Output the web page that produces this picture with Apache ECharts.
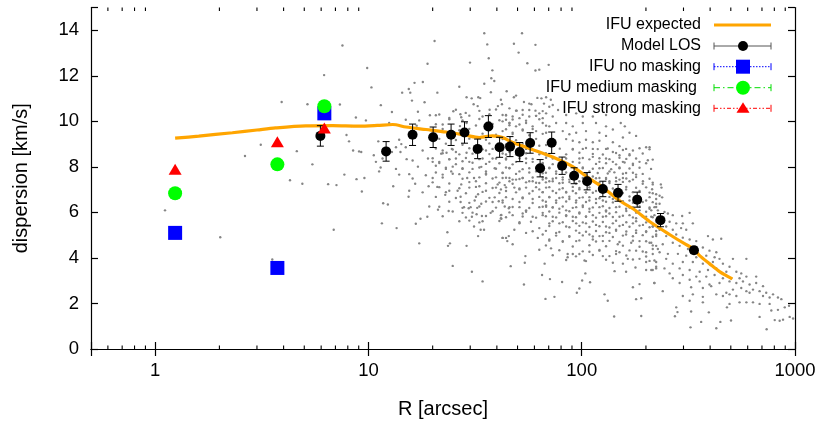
<!DOCTYPE html>
<html>
<head>
<meta charset="utf-8">
<script src="https://cdn.jsdelivr.net/npm/echarts@6/dist/echarts.min.js"></script>
<style>html,body{margin:0;padding:0;background:#fff;}#c{width:831px;height:424px;}</style>
</head>
<body>
<div id="c"></div>
<script>
// ---------------- DATA ----------------
const xTickLabels = [1, 10, 100, 1000];
const minorTickValues = [0.6,0.7,0.8,0.9,2,3,4,5,6,7,8,9,20,30,40,50,60,70,80,90,200,300,400,500,600,700,800,900];

// IFU expected curve: [R arcsec, dispersion km/s]
const ifuExpected = [[1.24,9.26],[1.6,9.35],[2.3,9.5],[3.0,9.62],[3.67,9.71],[5.08,9.8],[6.8,9.81],[9.0,9.79],[11,9.82],[13,9.86],[15,9.75],[18.6,9.64],[23.1,9.53],[28.6,9.39],[33.1,9.29],[38.2,9.36],[42.6,9.29],[47.5,9.07],[54.8,8.86],[63.3,8.65],[73.1,8.43],[90.7,8.01],[105,7.58],[126,7.09],[150,6.52],[174,6.16],[208,5.6],[258,5.03],[309,4.58],[336,4.39],[357,4.1],[397,3.75],[443,3.4],[508,3.08]];

// Model LOS binned: R, dispersion, error
const modelR   = [5.95,12.1,16.1,20.1,24.4,28.2,32.5,36.5,41.2,46.1,51.2,57.3,63.8,72.3,80.9,92.1,106,125.6,148,182,234,336];
const modelSig = [9.36,8.68,9.41,9.30,9.41,9.51,8.79,9.77,8.86,8.89,8.65,9.05,7.94,9.06,8.05,7.61,7.37,7.03,6.86,6.56,5.66,4.34];
const modelErr = [0.45,0.43,0.47,0.45,0.47,0.47,0.43,0.48,0.44,0.44,0.42,0.45,0.38,0.47,0.38,0.35,0.38,0.34,0.37,0.33,0.29,0.15];

// IFU points
const ifuR = [1.24, 3.74, 6.21];
const ifuNoMask = [5.1, 3.56, 10.35];
const ifuMedium = [6.84, 8.11, 10.66];
const ifuStrong = [7.9, 9.1, 9.71];

// Individual stars: [log10(R arcsec), dispersion km/s]
const starsLogR_Sigma = [
[1.543,13.87],[0.878,13.33],[1.310,13.53],[1.557,13.38],[1.564,12.77],[1.476,12.58],[1.277,12.53],[0.994,12.34],[1.581,12.24],[1.576,11.89],[1.590,11.77],[1.543,11.65],[1.255,11.73],[1.216,11.69],[1.014,11.49],[1.426,11.52],[1.189,11.42],[1.158,11.26],[1.196,11.26],[1.574,11.28],[1.323,11.26],[1.460,11.06],[1.484,11.01],[1.515,11.06],[1.524,11.02],[1.621,10.95],[1.204,10.91],[1.263,10.84],[1.493,10.75],[0.866,10.74],[1.058,10.71],[1.607,10.67],[1.512,10.67],[1.568,10.51],[1.398,10.44],[1.110,10.41],[1.232,10.42],[1.288,10.27],[1.316,10.27],[1.431,10.31],[1.456,10.37],[1.379,10.15],[1.435,10.18],[1.535,10.21],[1.629,10.28],[1.645,10.07],[0.941,10.17],[0.988,10.04],[1.175,10.07],[1.238,10.04],[1.567,9.96],[1.661,9.93],[0.919,9.79],[1.097,9.93],[1.226,9.81],[1.348,9.86],[1.429,9.79],[1.460,9.93],[0.897,9.40],[0.909,9.12],[1.046,9.12],[1.144,9.19],[1.154,9.00],[1.129,8.86],[1.175,8.86],[0.928,8.72],[0.956,8.68],[0.966,8.65],[1.025,8.51],[1.110,8.65],[1.150,8.65],[1.254,8.72],[1.348,8.72],[1.341,8.58],[1.366,8.62],[1.391,8.79],[1.410,8.65],[1.460,8.62],[1.488,8.58],[1.551,8.72],[1.582,8.79],[1.629,8.72],[1.645,8.54],[1.035,8.22],[1.066,8.37],[1.179,8.34],[1.207,8.28],[1.279,8.37],[1.301,8.22],[1.332,8.22],[1.379,8.34],[1.410,8.37],[1.441,8.25],[1.473,8.22],[1.535,8.37],[1.567,8.22],[1.598,8.37],[1.057,7.97],[1.129,7.91],[1.232,8.01],[1.316,8.05],[1.363,7.91],[1.395,8.01],[1.441,7.94],[1.488,7.91],[1.529,8.00],[1.551,7.80],[1.592,7.94],[1.645,7.97],[0.887,7.66],[0.944,7.46],[0.981,7.51],[1.050,7.80],[1.144,7.66],[1.191,7.68],[1.207,7.49],[1.269,7.63],[1.301,7.51],[1.348,7.66],[1.388,7.80],[1.426,7.68],[1.463,7.51],[1.495,7.51],[1.504,7.37],[1.551,7.66],[1.598,7.54],[1.629,7.73],[1.661,7.51],[0.850,7.20],[0.969,6.92],[1.116,7.15],[1.219,7.26],[1.282,7.15],[1.323,7.12],[1.379,6.95],[1.435,7.23],[1.473,7.09],[1.520,7.15],[1.598,7.09],[1.639,7.20],[1.191,6.95],[1.254,6.88],[1.418,6.95],[1.551,6.95],[1.606,7.23],
[1.360,6.77],[1.432,6.69],[1.514,6.80],[1.592,6.66],[1.611,6.49],[1.582,6.46],[1.639,6.26],[1.658,6.18],[1.498,6.52],[1.529,6.38],[1.432,6.46],[1.448,6.23],[1.470,6.18],[1.479,6.23],[1.510,6.20],[1.069,6.40],[1.091,6.35],[1.188,6.69],[1.285,6.26],[1.326,6.12],[1.376,6.06],[1.441,5.98],[1.485,5.81],[1.473,5.64],[1.507,5.92],[1.532,5.84],[1.535,5.61],[1.573,5.98],[1.623,5.89],[1.623,5.72],[0.837,5.24],[1.063,5.52],[1.132,5.31],[1.222,5.50],[1.244,5.72],[1.276,5.81],[1.370,5.13],[1.495,5.38],[1.514,4.96],[1.526,5.24],[1.542,5.24],[1.629,4.88],[1.651,4.74],[1.658,4.96],[1.238,4.64],[1.373,4.53],[1.382,4.64],[1.460,4.53],[1.395,3.65],[1.485,3.39],[1.535,2.97],
[1.720,13.87],[1.682,13.41],[1.783,13.36],[1.704,13.02],[1.745,12.55],[1.845,12.48],[1.801,12.27],[1.783,12.23],[1.648,11.32],[1.692,11.13],[1.682,11.06],[1.792,11.03],[1.811,11.01],[1.833,11.06],[1.855,10.95],[1.626,10.75],[1.729,10.85],[1.754,10.78],[1.764,10.75],[1.823,10.78],[1.848,10.64],[1.864,10.72],[1.661,10.57],[1.695,10.47],[1.723,10.50],[1.783,10.47],[1.801,10.35],[1.833,10.35],[1.889,10.50],[1.645,10.28],[1.676,10.21],[1.708,10.14],[1.754,10.21],[1.786,10.24],[1.817,10.14],[1.864,10.21],[1.927,10.28],[1.974,10.35],[2.005,10.21],[2.052,10.21],[2.114,10.28],[2.183,9.93],[2.202,9.78],[1.629,10.00],[1.661,9.93],[1.692,9.78],[1.739,9.93],[1.770,9.78],[1.817,9.93],[1.848,9.78],[1.880,9.93],[1.927,9.93],[1.958,9.78],[2.005,9.93],[2.067,9.93],[2.114,9.78],[2.146,9.64],[1.629,9.57],[1.676,9.50],[1.723,9.64],[1.786,9.57],[1.833,9.50],[1.911,9.57],[1.942,9.43],[1.974,9.50],[2.020,9.57],[2.083,9.50],[2.114,9.36],[2.193,9.29],[2.224,9.50],[2.255,9.36],[2.302,8.86],[2.310,8.29],[1.927,9.22],[1.958,9.15],[1.989,9.08],[2.020,9.19],[2.052,9.08],[2.083,9.15],[2.146,9.08],[2.177,8.91],[2.208,8.79],[2.240,8.72],[1.629,8.93],[1.661,8.65],[1.739,8.79],[1.801,8.93],[1.958,8.79],[2.005,8.79],[2.052,8.79],[2.114,8.79],[2.146,8.65],[2.177,8.51],[2.224,8.51],[1.645,8.37],[1.692,8.22],[1.739,8.37],[1.770,8.22],[1.833,8.51],[1.864,8.37],[1.927,8.37],[1.958,8.22],[1.989,8.37],[2.052,8.44],[2.083,8.22],[2.114,8.37],[2.146,8.22],[2.193,8.22],[2.240,8.08],[2.271,8.22],[1.661,7.94],[1.708,7.80],[1.754,7.94],[1.786,7.80],[1.848,7.94],[1.880,7.80],[2.005,7.94],[2.036,7.80],[2.083,7.94],[2.130,7.80],[2.177,7.94],[2.208,7.73],[2.255,7.66],[1.676,7.44],[1.723,7.51],[1.770,7.37],[1.833,7.51],[1.864,7.37],[1.911,7.44],[1.989,7.37],[2.083,7.51],[2.130,7.37],[2.177,7.44],[2.224,7.37],
[1.629,7.51],[1.661,7.37],[1.692,7.44],[1.723,7.51],[1.754,7.37],[1.786,7.30],[1.817,7.44],[1.848,7.37],[1.880,7.51],[1.911,7.30],[1.942,7.44],[2.005,7.51],[2.052,7.58],[2.114,7.51],[2.161,7.37],[2.193,7.51],[2.240,7.44],[2.287,7.37],[2.333,7.23],[1.621,7.01],[1.645,6.94],[1.684,7.09],[1.708,7.01],[1.739,7.09],[1.770,6.94],[1.801,7.01],[1.833,7.09],[1.864,6.94],[1.895,7.01],[1.927,6.87],[1.958,6.94],[1.989,7.01],[2.020,6.87],[2.067,6.94],[2.130,6.87],[2.208,7.01],[2.271,6.94],[2.318,6.87],[2.349,6.80],[1.629,6.52],[1.676,6.59],[1.723,6.66],[1.770,6.59],[1.817,6.52],[1.848,6.66],[1.880,6.52],[1.911,6.66],[1.942,6.59],[1.974,6.52],[2.005,6.66],[2.036,6.52],[2.067,6.59],[2.099,6.52],[2.146,6.59],[2.177,6.66],[2.224,6.52],[2.302,6.52],[2.349,6.38],[1.661,6.23],[1.708,6.23],[1.739,6.09],[1.801,6.23],[1.833,6.30],[1.864,6.23],[1.895,6.16],[1.927,6.09],[1.974,6.23],[2.005,6.30],[2.036,6.16],[2.083,6.23],[2.114,6.09],[2.161,6.23],[2.208,6.16],[2.240,6.23],[2.271,6.09],[2.318,6.16],[1.621,5.88],[1.676,5.88],[1.723,5.95],[1.770,5.81],[1.817,5.88],[1.864,5.81],[1.927,5.88],[1.958,5.81],[1.989,5.95],[2.020,5.81],[2.052,5.88],[2.099,5.81],[2.130,5.95],[2.177,5.81],[2.224,5.88],[2.255,5.74],[2.302,5.81],[2.341,5.88],[1.621,5.74],[1.708,5.52],[1.762,5.59],[1.801,5.31],[1.848,5.52],[1.895,5.52],[1.927,5.38],[1.974,5.52],[2.020,5.52],[2.067,5.45],[2.114,5.38],[2.146,5.52],[2.193,5.45],[2.240,5.52],[2.287,5.45],[2.333,5.38],[1.645,4.88],[1.684,5.24],[1.739,5.10],[1.770,5.17],[1.817,5.03],[1.880,5.10],[1.942,4.96],[1.989,5.10],[2.036,5.03],[2.083,4.96],[2.130,5.10],[2.161,5.24],[2.208,5.03],[2.255,5.10],[2.302,5.17],[2.349,5.03],[1.629,4.88],[1.676,4.60],[1.794,4.88],[1.848,4.81],[1.911,4.74],[1.974,4.74],[2.052,4.81],[2.099,4.74],[2.169,4.60],[2.232,4.67],[2.271,4.74],[2.318,4.67],[2.349,4.53],[1.801,4.36],[1.856,4.42],[1.934,4.17],[1.958,4.17],[1.989,4.17],[2.036,4.27],[2.083,4.32],[2.161,4.17],[2.177,4.25],[2.216,3.96],[2.255,4.32],[2.302,4.25],[2.333,4.17],[2.357,4.39],[1.736,4.08],[1.733,3.79],[1.826,3.75],[1.934,4.03],[2.013,3.89],[2.099,4.08],[2.146,3.79],[2.193,3.75],[2.240,3.93],[2.271,3.96],[2.302,3.82],[2.341,3.89],[1.667,3.64],[1.814,3.25],[1.851,3.07],[1.908,2.94],[2.017,3.32],[2.039,2.93],[2.002,3.01],[2.154,3.42],[2.208,3.39],[2.252,3.58],[2.302,3.47],[2.333,3.47],[2.349,3.54],[1.729,2.83],[1.989,2.66],[1.977,2.47],[2.107,2.40],[2.122,2.12],[2.240,2.71],[2.271,2.85],[2.341,2.90],[1.830,2.20],[1.872,2.29],[2.255,2.19],[2.279,2.23],[2.152,1.43],[2.279,1.45],
[2.318,8.86],[2.371,7.23],[2.374,7.09],[2.330,7.02],[2.365,6.73],[2.377,6.66],[2.349,6.59],[2.333,6.45],[2.365,6.38],[2.341,6.23],[2.326,6.09],[2.357,6.09],[2.388,6.02],[2.404,5.95],[2.427,5.88],[2.471,5.84],[2.506,5.98],[2.326,5.81],[2.349,5.67],[2.412,5.59],[2.443,5.52],[2.474,5.52],[2.521,5.52],[2.396,5.38],[2.427,5.24],[2.466,5.31],[2.490,5.24],[2.333,5.38],[2.365,5.24],[2.349,4.96],[2.396,4.96],[2.443,5.03],[2.474,4.89],[2.506,4.81],[2.537,4.74],[2.592,4.96],[2.615,4.81],[2.654,4.84],[2.326,4.67],[2.380,4.60],[2.427,4.67],[2.459,4.53],[2.498,4.39],[2.568,4.46],[2.599,4.32],[2.631,4.25],[2.333,4.39],[2.365,4.25],[2.404,4.18],[2.451,4.18],[2.490,4.10],[2.537,4.03],[2.584,4.10],[2.623,4.03],[2.646,3.96],[2.709,3.96],[2.772,3.96],[2.349,3.82],[2.396,3.96],[2.427,3.75],[2.474,3.82],[2.521,3.82],[2.568,3.75],[2.615,3.82],[2.662,3.75],[2.693,3.61],[2.349,3.61],[2.388,3.54],[2.459,3.54],[2.506,3.47],[2.553,3.39],[2.592,3.47],[2.631,3.54],[2.678,3.39],[2.725,3.39],[2.748,3.32],[2.326,3.47],[2.412,3.32],[2.474,3.25],[2.537,3.18],[2.584,3.18],[2.623,3.25],[2.662,3.11],[2.701,3.11],[2.740,3.11],[2.772,3.18],[2.818,3.18],[2.427,3.11],[2.459,2.90],[2.506,3.04],[2.553,2.97],[2.599,2.83],[2.646,2.90],[2.693,2.97],[2.725,2.90],[2.756,2.97],[2.787,2.83],[2.818,2.90],[2.850,2.76],[2.340,2.90],[2.380,2.54],[2.513,2.71],[2.568,2.68],[2.607,2.76],[2.678,2.47],[2.709,2.61],[2.748,2.68],[2.772,2.54],[2.803,2.61],[2.834,2.54],[2.865,2.47],[2.897,2.40],[2.920,2.26],[2.474,2.33],[2.521,2.40],[2.568,2.29],[2.631,2.40],[2.662,2.33],[2.693,2.40],[2.725,2.33],[2.787,2.47],[2.850,2.33],[2.881,2.26],[2.936,2.19],[2.506,2.12],[2.568,2.05],[2.693,1.98],[2.740,2.05],[2.772,2.05],[2.803,2.05],[2.834,1.98],[2.881,1.98],[2.443,1.83],[2.449,1.62],[2.437,1.44],[2.513,1.65],[2.596,1.61],[2.681,1.83],[2.834,1.41],[2.889,1.69],[2.920,1.72],[2.952,1.83],[2.972,1.90],[2.560,1.19],[2.650,1.19],[2.700,1.25],[2.905,1.27],[2.928,1.24],[2.944,1.29],[2.975,1.41],[2.991,1.34],[2.510,0.95],[2.631,0.91],[2.867,0.87],
[0.792,12.03],[0.593,10.85],[0.714,10.75],[0.811,7.24],[0.690,7.26],[0.632,7.41],[0.495,8.97],[0.421,8.48],[0.664,8.69],[0.737,8.11],[0.549,3.93],[0.305,4.91],[0.046,6.09],
[1.897,8.80],[1.958,8.76],[2.020,8.83],[2.075,8.78],[2.122,8.81],[2.193,8.74],[2.271,8.82],[2.318,8.77],[1.832,8.60],[1.927,8.55],[1.989,8.62],[2.052,8.57],[2.099,8.54],[2.161,8.61],[2.224,8.56],[2.286,8.59],[2.005,8.39],[2.036,8.33],[2.083,8.38],[2.130,8.34],[2.177,8.40],[2.209,8.35],[2.255,8.37],[2.333,8.32],[1.817,8.17],[1.864,8.12],[1.989,8.18],[2.067,8.13],[2.114,8.16],[2.161,8.11],[2.201,8.19],[2.240,8.14],[2.302,8.16],[1.848,7.96],[1.895,7.91],[2.005,7.97],[2.052,7.92],[2.099,7.95],[2.138,7.90],[2.177,7.97],[2.224,7.93],[2.271,7.96],[2.325,7.91],[1.832,7.74],[1.880,7.70],[1.927,7.75],[2.020,7.69],[2.075,7.73],[2.122,7.71],[2.153,7.76],[2.193,7.70],[2.240,7.74],[2.286,7.69],[1.817,7.53],[1.864,7.48],[1.911,7.54],[2.067,7.50],[2.114,7.47],[2.161,7.52],[2.209,7.49],[2.255,7.55],[2.318,7.48],[1.832,7.32],[1.895,7.28],[1.942,7.33],[1.973,7.27],[2.083,7.31],[2.130,7.29],[2.193,7.34],[2.286,7.26],[2.333,7.31],[1.848,7.11],[1.911,7.06],[1.958,7.12],[1.989,7.07],[2.036,7.10],[2.146,7.05],[2.209,7.12],[2.255,7.08],[2.302,7.10],[1.817,6.89],[1.880,6.85],[1.927,6.90],[1.973,6.84],[2.020,6.88],[2.052,6.86],[2.114,6.91],[2.193,6.85],[2.240,6.89],[2.333,6.84],[1.848,6.68],[1.895,6.63],[1.942,6.69],[1.989,6.64],[2.036,6.67],[2.083,6.62],[2.130,6.68],[2.161,6.65],[2.224,6.70],[2.271,6.63],[2.318,6.67],[1.832,6.47],[1.880,6.42],[1.927,6.48],[1.973,6.43],[2.020,6.46],[2.067,6.41],[2.114,6.47],[2.146,6.44],[2.193,6.49],[2.240,6.42],[2.286,6.46],[1.817,6.25],[1.864,6.21],[1.911,6.26],[1.958,6.20],[2.005,6.24],[2.052,6.22],[2.099,6.27],[2.130,6.19],[2.177,6.25],[2.224,6.21],[2.271,6.26],[2.318,6.22],[2.349,6.24],[1.848,6.04],[1.895,5.99],[1.942,6.05],[1.989,6.00],[2.036,6.03],[2.083,5.98],[2.114,6.04],[2.161,6.01],[2.209,6.06],[2.255,5.99],[2.302,6.03],[1.832,5.83],[1.880,5.78],[1.927,5.84],[1.973,5.79],[2.020,5.82],[2.067,5.77],[2.114,5.83],[2.146,5.80],[2.193,5.85],[2.240,5.78],[2.286,5.82],[2.333,5.79],[1.864,5.61],[1.911,5.57],[1.958,5.62],[2.005,5.56],[2.052,5.60],[2.099,5.58],[2.161,5.63],[2.209,5.57],[2.255,5.61],[2.302,5.56],[2.349,5.60],[1.848,5.40],[1.942,5.35],[1.989,5.41],[2.036,5.36],[2.083,5.39],[2.130,5.34],[2.177,5.40],[2.224,5.37],[2.271,5.42],[2.318,5.35],[1.832,5.19],[1.895,5.14],[1.973,5.20],[2.020,5.15],[2.067,5.18],[2.114,5.13],[2.161,5.19],[2.209,5.16],[2.255,5.21],[2.302,5.14],[2.349,5.18],[1.880,4.98],[1.942,4.93],[2.005,4.99],[2.052,4.94],[2.099,4.97],[2.146,4.92],[2.193,4.98],[2.240,4.95],[2.286,5.00],[2.333,4.93],[1.848,4.76],[1.911,4.71],[1.989,4.77],[2.067,4.72],[2.130,4.75],[2.177,4.70],[2.240,4.76],[2.302,4.73],[1.832,4.55],[1.958,4.50],[2.036,4.56],[2.114,4.51],[2.193,4.54],[2.271,4.49],[2.333,4.55],[1.895,4.34],[2.005,4.29],[2.083,4.35],[2.161,4.30],[2.224,4.33],[2.286,4.28],[1.864,4.12],[1.973,4.07],[2.052,4.13],[2.130,4.08],[2.209,4.11],[2.302,4.06],[1.927,3.91],[2.020,3.86],[2.114,3.92],[2.318,3.87],
[1.410,10.51],[1.520,10.46],[1.598,10.52],[1.692,10.47],[1.754,10.50],[1.817,10.45],[1.332,10.30],[1.473,10.25],[1.567,10.31],[1.645,10.26],[1.723,10.29],[1.786,10.24],[1.379,10.09],[1.441,10.04],[1.520,10.10],[1.614,10.05],[1.676,10.08],[1.739,10.03],[1.801,10.09],[1.316,9.87],[1.504,9.82],[1.582,9.88],[1.661,9.83],[1.708,9.86],[1.833,9.81],[1.348,9.66],[1.426,9.61],[1.473,9.67],[1.567,9.62],[1.645,9.65],[1.723,9.60],[1.770,9.66],[1.301,9.45],[1.379,9.40],[1.535,9.46],[1.598,9.41],[1.676,9.44],[1.754,9.39],[1.817,9.45],[1.332,9.23],[1.410,9.18],[1.473,9.24],[1.551,9.19],[1.629,9.22],[1.692,9.17],[1.786,9.23],[1.363,9.02],[1.441,8.97],[1.567,9.03],[1.645,8.98],[1.723,9.01],[1.833,8.96],[1.316,8.81],[1.395,8.76],[1.473,8.82],[1.535,8.77],[1.598,8.80],[1.661,8.75],[1.754,8.81],[1.348,8.60],[1.426,8.55],[1.504,8.61],[1.567,8.56],[1.629,8.59],[1.692,8.54],[1.739,8.60],[1.801,8.55],[1.301,8.38],[1.379,8.33],[1.457,8.39],[1.520,8.34],[1.582,8.37],[1.645,8.32],[1.708,8.38],[1.770,8.35],[1.833,8.40],[1.332,8.17],[1.410,8.12],[1.488,8.18],[1.551,8.13],[1.614,8.16],[1.676,8.11],[1.739,8.17],[1.817,8.14],[1.363,7.96],[1.441,7.91],[1.520,7.97],[1.598,7.92],[1.661,7.95],[1.723,7.90],[1.786,7.96],[1.316,7.75],[1.395,7.70],[1.473,7.76],[1.551,7.71],[1.629,7.74],[1.692,7.69],[1.754,7.75],[1.817,7.72],[1.348,7.53],[1.441,7.48],[1.520,7.54],[1.582,7.49],[1.645,7.52],[1.708,7.47],[1.770,7.53],[1.833,7.50],[1.301,7.32],[1.379,7.27],[1.473,7.33],[1.551,7.28],[1.614,7.31],[1.676,7.26],[1.739,7.32],[1.801,7.29],[1.332,7.11],[1.426,7.06],[1.504,7.12],[1.582,7.07],[1.645,7.10],[1.708,7.05],[1.786,7.11],[1.363,6.89],[1.457,6.84],[1.535,6.90],[1.614,6.85],[1.692,6.88],[1.754,6.83],[1.817,6.89],[1.316,6.68],[1.410,6.63],[1.504,6.69],[1.567,6.64],[1.645,6.67],[1.723,6.62],[1.801,6.68],[1.379,6.47],[1.473,6.42],[1.551,6.48],[1.629,6.43],[1.708,6.46],[1.770,6.41],[1.332,6.25],[1.441,6.20],[1.520,6.26],[1.598,6.21],[1.676,6.24],[1.754,6.19],[1.833,6.25],[1.395,6.04],[1.488,5.99],[1.582,6.05],[1.661,6.00],[1.739,6.03],[1.817,5.98],[1.348,5.83],[1.457,5.78],[1.551,5.84],[1.645,5.79],[1.723,5.82],[1.786,5.77],[1.426,5.61],[1.520,5.56],[1.614,5.62],[1.708,5.57]
];

// ---------------- CHART ----------------
const FONT = '"Liberation Sans", Arial, Helvetica, sans-serif';
const chart = echarts.init(document.getElementById('c'), null, {renderer: 'canvas'});

const isPow10 = v => { const l = Math.log10(v); return Math.abs(l - Math.round(l)) < 1e-6 && xTickLabels.indexOf(Math.round(v)) >= 0; };

const xBase = {
  type: 'log', logBase: 10, min: 0.5, max: 1000,
  axisLine: {show: true, lineStyle: {color: '#000', width: 1.2}},
  axisTick: {show: true, inside: true, length: 7, lineStyle: {color: '#000', width: 1.2}},
  splitLine: {show: false}, minorTick: {show: false}
};
const yBase = {
  type: 'value', min: 0, max: 15, interval: 2,
  axisLine: {show: true, lineStyle: {color: '#000', width: 1.2}},
  axisTick: {show: true, inside: true, length: 7, lineStyle: {color: '#000', width: 1.2}},
  splitLine: {show: false}
};

const starData = starsLogR_Sigma.map(p => [Math.pow(10, p[0]), p[1]]);
const modelData = modelR.map((r, i) => [r, modelSig[i], modelErr[i]]);

function legendRow(y, color, dash, caps) {
  const els = [{type: 'line', shape: {x1: 714, y1: y, x2: 771, y2: y}, style: {stroke: color, lineWidth: 1, lineDash: dash}}];
  if (caps) {
    els.push({type: 'line', shape: {x1: 714, y1: y - 3.5, x2: 714, y2: y + 3.5}, style: {stroke: color, lineWidth: 1}});
    els.push({type: 'line', shape: {x1: 771, y1: y - 3.5, x2: 771, y2: y + 3.5}, style: {stroke: color, lineWidth: 1}});
  }
  return els;
}
function legendText(x, y, t) {
  return {type: 'text', x: x, y: y, style: {text: t, align: 'right', verticalAlign: 'middle', textAlign: 'right', textVerticalAlign: 'middle', font: '16px ' + FONT, fill: '#000'}};
}
const rows = [25, 46, 66.7, 87.7, 108.3];
const graphics = [
  legendText(701, rows[0], 'IFU expected'),
  {type: 'line', shape: {x1: 714, y1: rows[0], x2: 771, y2: rows[0]}, style: {stroke: '#FFA500', lineWidth: 3}},
  legendText(701, rows[1], 'Model LOS'),
  ...legendRow(rows[1], '#555', null, true),
  {type: 'circle', shape: {cx: 743, cy: rows[1], r: 5}, style: {fill: '#000'}},
  legendText(701, rows[2], 'IFU no masking'),
  ...legendRow(rows[2], '#0000FF', [1.5, 1.5], true),
  {type: 'rect', shape: {x: 736, y: rows[2] - 7, width: 14, height: 14}, style: {fill: '#0000FF'}},
  legendText(697, rows[3], 'IFU medium masking'),
  ...legendRow(rows[3], '#00DD00', [6, 3, 1.5, 3], true),
  {type: 'circle', shape: {cx: 743, cy: rows[3], r: 7}, style: {fill: '#00FF00'}},
  legendText(701, rows[4], 'IFU strong masking'),
  ...legendRow(rows[4], '#FF0000', [4, 2, 1.5, 2, 1.5, 2], true),
  {type: 'polygon', shape: {points: [[743, rows[4] - 6], [749.5, rows[4] + 4.5], [736.5, rows[4] + 4.5]]}, style: {fill: '#FF0000'}}
];

const option = {
  animation: false,
  backgroundColor: '#fff',
  textStyle: {fontFamily: FONT},
  grid: {left: 91, right: 36, top: 7.5, bottom: 64.5, containLabel: false},
  xAxis: [
    Object.assign({}, xBase, {
      position: 'bottom',
      name: 'R [arcsec]', nameLocation: 'middle', nameGap: 50,
      nameTextStyle: {fontSize: 20, color: '#000', fontFamily: FONT},
      axisLabel: {show: true, margin: 12, fontSize: 18.5, color: '#000', fontFamily: FONT,
        formatter: v => isPow10(v) ? String(Math.round(v)) : ''}
    }),
    Object.assign({}, xBase, {position: 'top', axisLabel: {show: false}})
  ],
  yAxis: [
    Object.assign({}, yBase, {
      position: 'left',
      name: 'dispersion [km/s]', nameLocation: 'middle', nameGap: 60,
      nameTextStyle: {fontSize: 20, color: '#000', fontFamily: FONT},
      axisLabel: {show: true, margin: 12, fontSize: 18.5, color: '#000', fontFamily: FONT,
        formatter: v => (v > 14.5 ? '' : String(v))}
    }),
    Object.assign({}, yBase, {position: 'right', axisLabel: {show: false}})
  ],
  graphic: graphics,
  series: [
    {
      name: 'stars', type: 'scatter', xAxisIndex: 0, yAxisIndex: 0, data: starData,
      symbol: 'circle', symbolSize: 2.4, itemStyle: {color: '#858585', opacity: 1}, silent: true, z: 1
    },
    {
      name: 'minorTicks', type: 'custom', xAxisIndex: 0, yAxisIndex: 0, silent: true, z: 5,
      data: minorTickValues.map(v => [v, 0]),
      renderItem: function (params, api) {
        const b = api.coord([api.value(0), 0]);
        const t = api.coord([api.value(0), 15]);
        const st = {stroke: '#000', lineWidth: 1.1};
        return {type: 'group', children: [
          {type: 'line', shape: {x1: b[0], y1: b[1], x2: b[0], y2: b[1] - 3.5}, style: st},
          {type: 'line', shape: {x1: t[0], y1: t[1], x2: t[0], y2: t[1] + 3.5}, style: st}
        ]};
      }
    },
    {
      name: 'IFU expected', type: 'line', xAxisIndex: 0, yAxisIndex: 0, data: ifuExpected,
      showSymbol: false, smooth: 0.3, lineStyle: {color: '#FFA500', width: 3.2}, z: 3, silent: true
    },
    {
      name: 'Model LOS err', type: 'custom', xAxisIndex: 0, yAxisIndex: 0, data: modelData, z: 4, silent: true,
      encode: {x: 0, y: 1},
      renderItem: function (params, api) {
        const x = api.value(0), y = api.value(1), e = api.value(2);
        const top = api.coord([x, y + e]);
        const bot = api.coord([x, y - e]);
        const c = 3.5;
        const st = {stroke: '#000', lineWidth: 1};
        return {type: 'group', children: [
          {type: 'line', shape: {x1: top[0], y1: top[1], x2: bot[0], y2: bot[1]}, style: st},
          {type: 'line', shape: {x1: top[0] - c, y1: top[1], x2: top[0] + c, y2: top[1]}, style: st},
          {type: 'line', shape: {x1: bot[0] - c, y1: bot[1], x2: bot[0] + c, y2: bot[1]}, style: st}
        ]};
      }
    },
    {
      name: 'Model LOS', type: 'scatter', xAxisIndex: 0, yAxisIndex: 0,
      data: modelData.map(d => [d[0], d[1]]), symbol: 'circle', symbolSize: 10,
      itemStyle: {color: '#000', opacity: 1}, z: 6, silent: true
    },
    {
      name: 'IFU no masking', type: 'scatter', data: ifuR.map((r, i) => [r, ifuNoMask[i]]),
      symbol: 'rect', symbolSize: 14, itemStyle: {color: '#0000FF', opacity: 1}, z: 7, silent: true
    },
    {
      name: 'IFU medium masking', type: 'scatter', data: ifuR.map((r, i) => [r, ifuMedium[i]]),
      symbol: 'circle', symbolSize: 14, itemStyle: {color: '#00FF00', opacity: 1}, z: 8, silent: true
    },
    {
      name: 'IFU strong masking', type: 'scatter', data: ifuR.map((r, i) => [r, ifuStrong[i]]),
      symbol: 'triangle', symbolSize: [13, 11], itemStyle: {color: '#FF0000', opacity: 1}, z: 9, silent: true
    }
  ]
};
chart.setOption(option);
</script>
</body>
</html>
